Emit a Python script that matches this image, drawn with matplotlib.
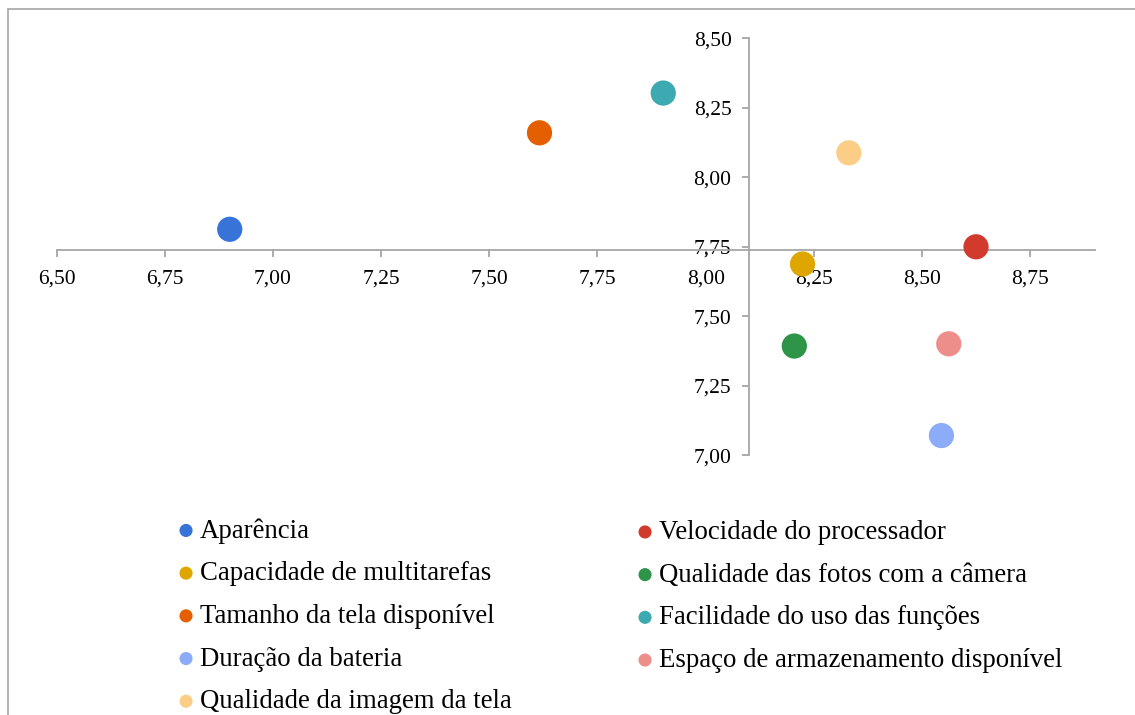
import matplotlib
matplotlib.use("Agg")
import matplotlib.pyplot as plt
from matplotlib.patches import Rectangle
from matplotlib.ticker import FuncFormatter, MultipleLocator

plt.rcParams['font.family'] = ['Liberation Serif', 'DejaVu Serif']

# dados
categorias = ["Aparência", "Velocidade do processador", "Capacidade de multitarefas",
              "Qualidade das fotos com a câmera", "Tamanho da tela disponível",
              "Facilidade do uso das funções", "Duração da bateria",
              "Espaço de armazenamento disponível", "Qualidade da imagem da tela"]
valores_x = [6.90, 8.625, 8.224, 8.205, 7.616, 7.902, 8.545, 8.562, 8.331]
valores_y = [7.813, 7.750, 7.688, 7.393, 8.160, 8.303, 7.071, 7.401, 8.088]
cores = ["#3874d8", "#d13b2e", "#dfa600", "#2e9448", "#e35f00",
         "#3da9b0", "#8cabf8", "#ee8e8a", "#fccd87"]

W, H = 1135, 715
fig = plt.figure(figsize=(W / 100, H / 100), dpi=100)

# moldura cinza (cortada a direita e embaixo)
fig.patches.append(Rectangle((8 / W, -0.05), 1.2, 1 - 9 / H + 0.05, transform=fig.transFigure,
                             fill=False, edgecolor="#a6a6a6", linewidth=1.2))

x0, x1 = 6.5, 8.9
y0, y1 = 7.0, 8.5
left_px, right_px = 56.7, 1095
top_px, bot_px = 38.3, 455.3
ax = fig.add_axes([left_px / W, 1 - bot_px / H, (right_px - left_px) / W, (bot_px - top_px) / H])
ax.set_xlim(x0, x1)
ax.set_ylim(y0, y1)
ax.patch.set_alpha(0)

handles = []
for cat, xv, yv, c in zip(categorias, valores_x, valores_y, cores):
    h = ax.scatter(xv, yv, s=330, color=c, edgecolors="none", label=cat, zorder=3, clip_on=False)
    handles.append(h)

gray = "#a6a6a6"
ax.spines['top'].set_visible(False)
ax.spines['right'].set_visible(False)
ax.spines['left'].set_position(('data', 8.10))
ax.spines['bottom'].set_position(('data', 7.74))
for s in ('left', 'bottom'):
    ax.spines[s].set_color(gray)
    ax.spines[s].set_linewidth(1.3)

fmt = FuncFormatter(lambda v, p: f"{v:.2f}".replace(".", ","))
ax.xaxis.set_major_locator(MultipleLocator(0.25))
ax.yaxis.set_major_locator(MultipleLocator(0.25))
ax.xaxis.set_major_formatter(fmt)
ax.yaxis.set_major_formatter(fmt)
ax.set_xticks([6.5 + 0.25 * i for i in range(10)])
ax.tick_params(axis='both', colors=gray, length=5, width=1.3, labelsize=15.5,
               labelcolor="black", direction='out')
ax.tick_params(axis='x', pad=9.5)
ax.tick_params(axis='y', pad=7.5)

# legenda em duas colunas
col1 = [0, 2, 4, 6, 8]
col2 = [1, 3, 5, 7]
kw = dict(frameon=False, fontsize=19.3, markerscale=0.52, handlelength=0.45,
          handletextpad=0.3, labelspacing=0.66, borderpad=0, borderaxespad=0)
leg1 = fig.legend([handles[i] for i in col1], [categorias[i] for i in col1],
                  loc='upper left', bbox_to_anchor=(180 / W, 1 - 518 / H), **kw)
leg2 = fig.legend([handles[i] for i in col2], [categorias[i] for i in col2],
                  loc='upper left', bbox_to_anchor=(639 / W, 1 - 520 / H), **kw)

fig.savefig("out.png", dpi=100)
